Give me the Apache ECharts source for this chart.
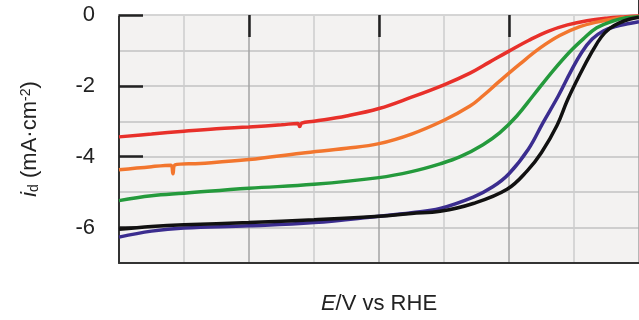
<!DOCTYPE html>
<html>
<head>
<meta charset="utf-8">
<script src="https://cdn.jsdelivr.net/npm/echarts@6/dist/echarts.min.js"></script>
<style>
html,body{margin:0;padding:0;background:#fff;}
#chart{width:639px;height:320px;}
</style>
</head>
<body>
<div id="chart"></div>
<script>
// E (V vs RHE) and i_d (mA/cm2)
var redE   = [0.200,0.250,0.300,0.350,0.400,0.450,0.475,0.478,0.481,0.500,0.550,0.600,0.650,0.700,0.740,0.770,0.800,0.830,0.860,0.890,0.920,0.950,0.980,1.000];
var redI   = [-3.44,-3.36,-3.28,-3.21,-3.16,-3.10,-3.06,-3.15,-3.05,-3.00,-2.85,-2.64,-2.32,-1.97,-1.64,-1.33,-1.02,-0.72,-0.46,-0.28,-0.16,-0.09,-0.05,-0.03];

var orangeE = [0.200,0.250,0.280,0.283,0.286,0.325,0.400,0.480,0.550,0.600,0.650,0.700,0.740,0.760,0.786,0.817,0.848,0.878,0.909,0.935,0.960,0.980,1.000];
var orangeI = [-4.37,-4.28,-4.24,-4.48,-4.23,-4.19,-4.08,-3.90,-3.76,-3.63,-3.36,-2.97,-2.57,-2.28,-1.86,-1.38,-0.93,-0.58,-0.33,-0.20,-0.11,-0.07,-0.04];

var greenE = [0.200,0.250,0.300,0.400,0.500,0.600,0.650,0.694,0.725,0.760,0.786,0.812,0.837,0.868,0.894,0.914,0.935,0.960,0.980,1.000];
var greenI = [-5.24,-5.10,-5.03,-4.89,-4.78,-4.59,-4.42,-4.20,-4.00,-3.66,-3.32,-2.85,-2.28,-1.57,-1.03,-0.68,-0.36,-0.17,-0.08,-0.05];

var blueE = [0.200,0.250,0.300,0.400,0.500,0.600,0.650,0.694,0.745,0.775,0.800,0.830,0.852,0.876,0.895,0.912,0.928,0.945,0.965,0.985,1.000];
var blueI = [-6.27,-6.10,-6.01,-5.95,-5.86,-5.68,-5.58,-5.46,-5.14,-4.85,-4.48,-3.78,-3.05,-2.28,-1.60,-1.05,-0.68,-0.45,-0.32,-0.24,-0.19];

var blackE = [0.200,0.250,0.300,0.400,0.500,0.600,0.650,0.694,0.745,0.797,0.828,0.850,0.874,0.890,0.909,0.928,0.942,0.955,0.970,0.985,1.000];
var blackI = [-6.05,-5.97,-5.92,-5.86,-5.78,-5.68,-5.60,-5.54,-5.32,-4.92,-4.40,-3.88,-3.11,-2.40,-1.68,-1.03,-0.62,-0.38,-0.22,-0.12,-0.06];

var yTickValues = [0,-2,-4,-6];
var xTopTickValues = [0.4,0.6,0.8];
var xBottomTickValues = [1.0];

function pairs(xs, ys){ return xs.map(function(x,i){ return [x, ys[i]]; }); }

var chart = echarts.init(document.getElementById('chart'), null, {renderer:'canvas'});
var font = '"Liberation Sans", Arial, sans-serif';

function line(name, xs, ys, color){
  return {
    name: name, type: 'line', xAxisIndex: 0, yAxisIndex: 0,
    data: pairs(xs, ys), showSymbol: false, smooth: 0.4,
    lineStyle: {color: color, width: 3.5}, z: 3
  };
}

chart.setOption({
  animation: false,
  backgroundColor: '#ffffff',
  grid: {left:119, top:15, width:520, height:259, show:true, backgroundColor:'#f3f2f1', borderWidth:0},
  xAxis: [{
    type:'value', min:0.2, max:1.0, interval:0.2, position:'bottom',
    name:'{e|E}/V vs RHE', nameLocation:'middle', nameGap:30,
    nameTextStyle:{fontFamily:font, fontSize:22, color:'#222',
      rich:{e:{fontFamily:font, fontSize:22, fontStyle:'italic', color:'#222'}}},
    axisLine:{show:true, onZero:false, lineStyle:{color:'#333', width:2}},
    axisTick:{show:false},
    axisLabel:{show:false},
    splitLine:{show:true, lineStyle:{color:'#a3a3a3', width:1.5}},
    minorTick:{show:false, splitNumber:2},
    minorSplitLine:{show:true, lineStyle:{color:'#cdcdcd', width:1.5}}
  },{
    type:'value', min:0.2, max:1.0, position:'top',
    axisLine:{show:true, onZero:false, lineStyle:{color:'#d6d6d6', width:1.5}},
    axisTick:{show:true, inside:true, length:22, customValues:xTopTickValues, lineStyle:{color:'#222', width:2.5}},
    axisLabel:{show:false},
    splitLine:{show:false}
  },{
    type:'value', min:0.2, max:1.0, position:'bottom',
    axisLine:{show:false},
    axisTick:{show:true, inside:true, length:20, customValues:xBottomTickValues, lineStyle:{color:'#333', width:2}},
    axisLabel:{show:false},
    splitLine:{show:false}
  }],
  yAxis: [{
    type:'value', min:-7, max:0, interval:1, position:'left',
    axisLine:{show:true, onZero:false, lineStyle:{color:'#333', width:2}},
    axisTick:{show:false},
    axisLabel:{show:false},
    splitLine:{show:true, lineStyle:{color:'#c2c2c2', width:1.5}}
  },{
    type:'value', min:-7, max:0, position:'left',
    name:'{i|i}{d|d} (mA·cm{s|-2})', nameLocation:'middle', nameGap:78, nameRotate:90,
    nameTextStyle:{fontFamily:font, fontSize:22, color:'#222',
      rich:{
        i:{fontFamily:font, fontSize:22, fontStyle:'italic', color:'#222'},
        d:{fontFamily:font, fontSize:14, color:'#222', verticalAlign:'bottom', padding:[8,0,0,0]},
        s:{fontFamily:font, fontSize:14, color:'#222', verticalAlign:'top', padding:[0,0,8,0]}
      }},
    axisLine:{show:false},
    axisTick:{show:true, inside:true, length:24, customValues:yTickValues, lineStyle:{color:'#222', width:2.5}},
    axisLabel:{show:true, customValues:yTickValues, margin:24, fontFamily:font, fontSize:22, color:'#222'},
    splitLine:{show:false}
  }],
  series: [
    line('red', redE, redI, '#e8302a'),
    line('orange', orangeE, orangeI, '#f2762e'),
    line('green', greenE, greenI, '#249a3c'),
    line('blue', blueE, blueI, '#3b2d8f'),
    line('black', blackE, blackI, '#111111')
  ]
});
</script>
</body>
</html>
